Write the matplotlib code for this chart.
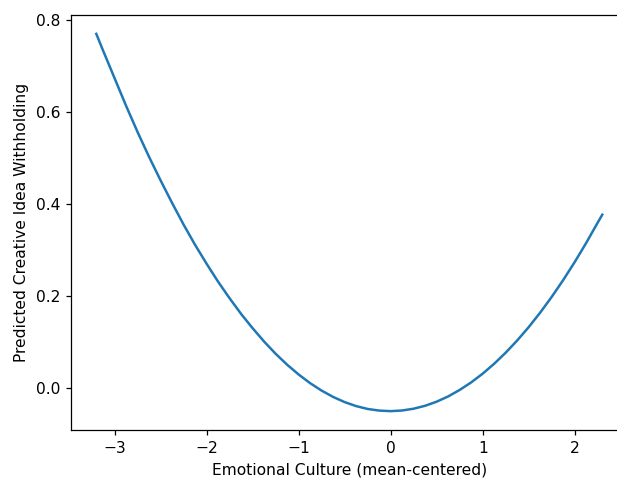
import matplotlib
matplotlib.use("Agg")
import matplotlib.pyplot as plt

# values
emotional_culture = [-3.2, -3.125, -3.0, -2.875, -2.75, -2.625, -2.5, -2.375, -2.25, -2.125,
                     -2.0, -1.875, -1.75, -1.625, -1.5, -1.375, -1.25, -1.125, -1.0, -0.875,
                     -0.75, -0.625, -0.5, -0.375, -0.25, -0.125, 0.0, 0.125, 0.25, 0.375,
                     0.5, 0.625, 0.75, 0.875, 1.0, 1.125, 1.25, 1.375, 1.5, 1.625,
                     1.75, 1.875, 2.0, 2.125, 2.25, 2.3]
predicted_withholding = [0.770, 0.733, 0.673, 0.613, 0.556, 0.502, 0.451, 0.402, 0.355, 0.311,
                         0.270, 0.231, 0.195, 0.161, 0.130, 0.101, 0.0745, 0.0508, 0.0295, 0.0107,
                         -0.0055, -0.0192, -0.0304, -0.0391, -0.0453, -0.0488, -0.050, -0.0486, -0.0447, -0.0383,
                         -0.0294, -0.0180, -0.0039, 0.0125, 0.0315, 0.0530, 0.0771, 0.1036, 0.1326, 0.1642,
                         0.1983, 0.2349, 0.274, 0.3156, 0.3598, 0.377]

dpi = 112
fig = plt.figure(figsize=(617 / dpi, 479 / dpi), dpi=dpi)
# the reference is a cropped screenshot, so the axes run past the right edge
ax = fig.add_axes([71 / 617, 49 / 479, 556.6 / 617, 415 / 479])

ax.plot(emotional_culture, predicted_withholding, color='tab:blue', linewidth=1.6)

ax.set_xlabel('Emotional Culture (mean-centered)')
ax.set_ylabel('Predicted Creative Idea Withholding')
ax.set_xticks([-3, -2, -1, 0, 1, 2])
ax.set_yticks([0.0, 0.2, 0.4, 0.6, 0.8])

fig.savefig('out.png', dpi=dpi)
